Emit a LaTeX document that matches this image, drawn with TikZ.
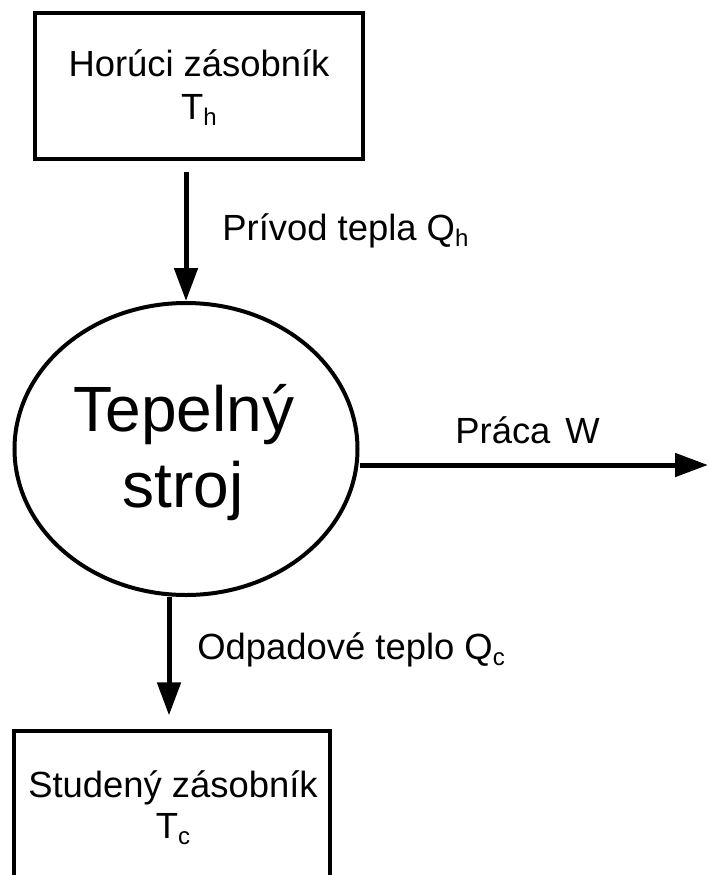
\documentclass[tikz,border=0pt]{standalone}
\usepackage{fontspec}
\setmainfont{Liberation Sans}
\usetikzlibrary{arrows.meta,shapes.geometric,calc}
\newcommand{\subx}[1]{\raisebox{-3pt}{\fontsize{12}{12}\selectfont #1}}
\begin{document}
\begin{tikzpicture}[x=0.5pt,y=-0.5pt,
 box/.style={draw, line width=1.6pt, rectangle, inner sep=0pt},
 eng/.style={draw, ellipse, line width=2pt, inner sep=0pt, minimum width=171.5pt, minimum height=146pt},
 txt/.style={font=\fontsize{18.2}{18.2}\selectfont, inner sep=0pt, anchor=base},
 big/.style={font=\fontsize{32}{32}\selectfont, inner sep=0pt, anchor=base},
 arr/.style={line width=2.5pt, -{Triangle[length=16.5pt,width=11.5pt]}}]
\useasboundingbox (0,0) rectangle (710,875);
\clip (0,0) rectangle (710,875);
\fill[white] (0,0) rectangle (710,875);
% shapes
\node[box, minimum width=164pt, minimum height=73pt] (hot) at (199,86) {};
\node[eng] (engine) at (186,449) {};
\node[box, minimum width=158pt, minimum height=100pt] (cold) at (172,831) {};
% texts
\node[txt] (hotname) at (199,76) {Horúci zásobník};
\node[txt] (hottemp) at (199,119) {T\subx{h}};
\node[txt, anchor=base west] (qhlabel) at (222,240) {Prívod tepla Q\subx{h}};
\node[big] (engname1) at (184,431) {Tepelný};
\node[big] (engname2) at (183,507) {stroj};
\node[txt, anchor=base west] (wlabel) at (455,443) {Práca\hspace{7.5pt}W};
\node[txt, anchor=base west] (qclabel) at (197,659) {Odpadové teplo Q\subx{c}};
\node[txt] (coldname) at (173,797) {Studený zásobník};
\node[txt] (coldtemp) at (173,838) {T\subx{c}};
% connectors
\draw[arr, shorten <=5.5pt] (hot.south -| engine.north) -- (engine.north);
\coordinate (wend) at (708,465);
\draw[arr] (engine.east |- wend) -- (wend);
\draw[arr] ($(engine.south)+(-17,0)$) -- ($(cold.north)+(-3,-14)$);
\end{tikzpicture}
\end{document}
